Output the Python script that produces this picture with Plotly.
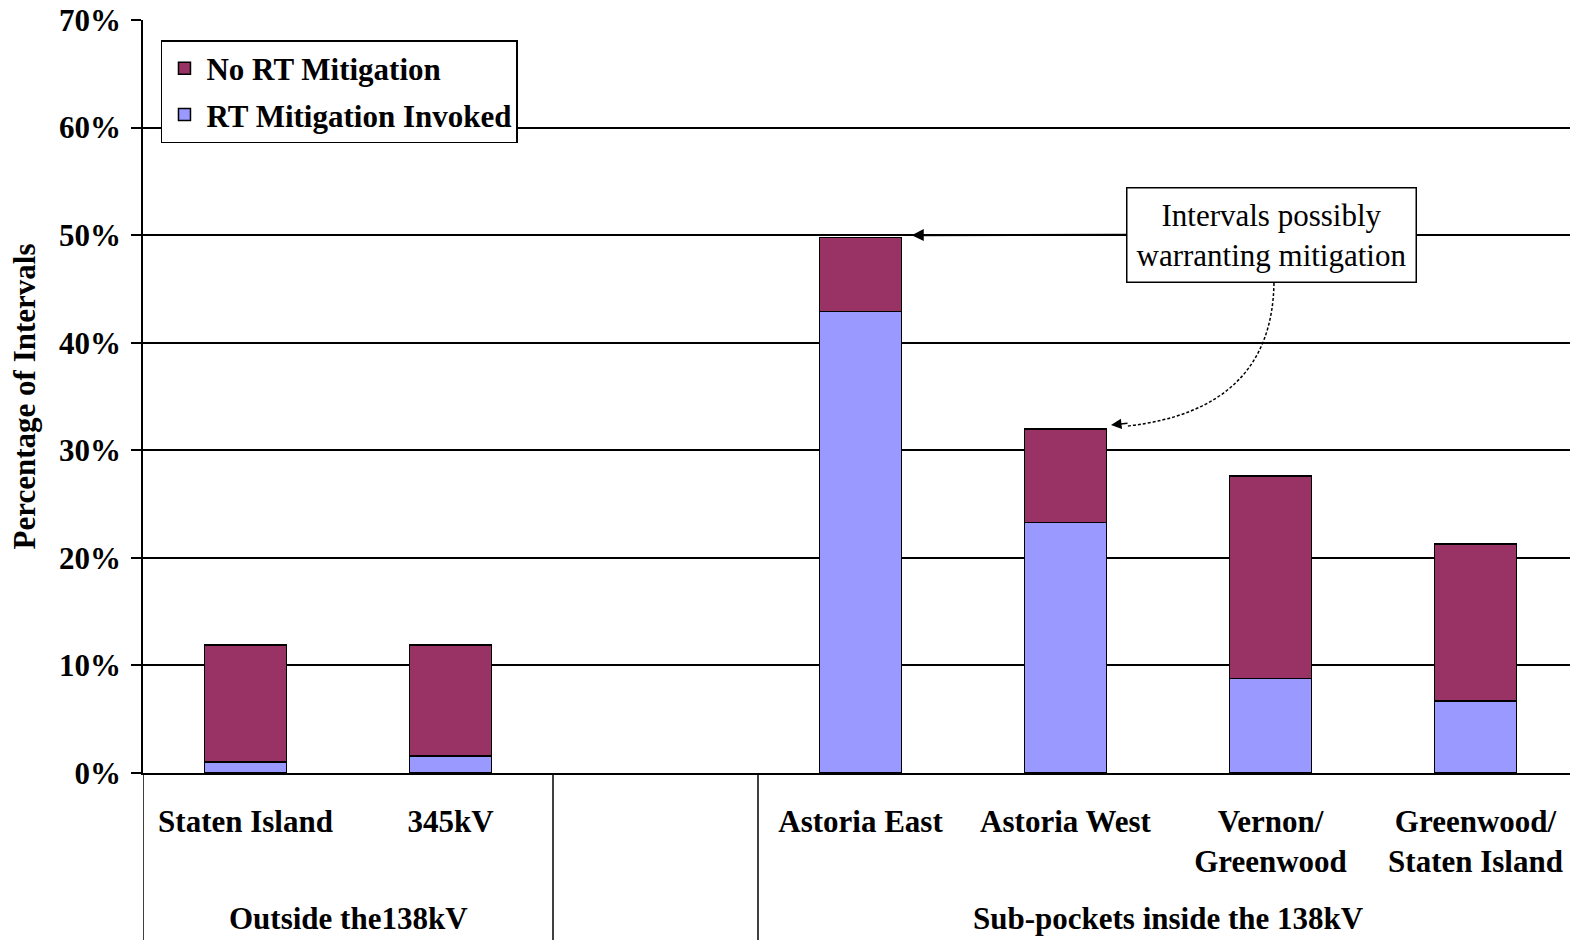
import plotly.graph_objects as go

# Sub-pocket categories (an empty slot separates the two groups)
categories = ["Staten Island", "345kV", "", "Astoria East", "Astoria West",
              "Vernon/<br>Greenwood", "Greenwood/<br>Staten Island"]
positions = [0, 1, 2, 3, 4, 5, 6]

# Share of intervals (%) with real-time mitigation invoked (bottom segment)
mitigated = [1.0, 1.6, None, 42.9, 23.3, 8.8, 6.7]
# Total share of intervals possibly warranting mitigation (%)
totals = [11.9, 11.9, None, 49.8, 32.0, 27.6, 21.3]
not_mitigated = [None if t is None else round(t - m, 2) for t, m in zip(totals, mitigated)]

y_ticks = [0, 10, 20, 30, 40, 50, 60, 70]
group_labels = ["Outside the138kV", "Sub-pockets inside the 138kV"]
group_centers = [0.5, 4.5]
group_dividers = [-0.5, 1.5, 2.5]

SERIF = "Liberation Serif, Times New Roman, serif"
MAROON = "#993366"
PERIWINKLE = "#9999FF"
FS = 31

fig = go.Figure()
fig.add_trace(go.Bar(
    x=positions, y=mitigated, name="RT Mitigation Invoked",
    marker=dict(color=PERIWINKLE, line=dict(color="black", width=1.5)),
    width=0.4, legendgroup="mitigated", legendrank=2,
))
fig.add_trace(go.Bar(
    x=positions, y=not_mitigated, name="No RT Mitigation",
    marker=dict(color=MAROON, line=dict(color="black", width=1.5)),
    width=0.4, legendgroup="unmitigated", legendrank=1,
))

fig.update_layout(
    barmode="stack",
    width=1570, height=940,
    margin=dict(l=143, r=0, t=20, b=167),
    paper_bgcolor="white", plot_bgcolor="white",
    font=dict(family=SERIF, color="black", size=FS),
    showlegend=True,
    legend=dict(
        x=0.0126, y=0.9734, xanchor="left", yanchor="top",
        bgcolor="white", bordercolor="black", borderwidth=1.5,
        font=dict(family=SERIF, size=FS, weight="bold", color="black"),
        traceorder="grouped", tracegroupgap=3, itemwidth=34,
    ),
    xaxis=dict(
        range=[-0.5, 6.461],
        tickmode="array", tickvals=positions, ticktext=categories,
        tickfont=dict(family=SERIF, size=FS, weight="bold", color="black"),
        ticks="", showgrid=False, zeroline=False,
        showline=True, linecolor="black", linewidth=1.5,
        ticklabelstandoff=20,
    ),
    yaxis=dict(
        range=[0, 70],
        tickmode="array", tickvals=y_ticks,
        ticktext=[f"{v}%" for v in y_ticks],
        tickfont=dict(family=SERIF, size=FS, weight="bold", color="black"),
        ticks="outside", ticklen=10, tickwidth=1.5, tickcolor="black",
        ticklabelstandoff=4,
        showgrid=True, gridcolor="black", gridwidth=1.5,
        zeroline=False, showline=True, linecolor="black", linewidth=1.5,
        title=dict(text="Percentage of Intervals", standoff=14,
                   font=dict(family=SERIF, size=31, weight="bold", color="black")),
    ),
)

# Group divider lines below the category axis
for xd in group_dividers:
    fig.add_shape(type="line", xref="x", yref="paper",
                  x0=xd, x1=xd, y0=-0.23, y1=0,
                  line=dict(color="black", width=1.5))

# Group captions
for label, xc in zip(group_labels, group_centers):
    fig.add_annotation(text=label, xref="x", yref="paper", x=xc, y=-0.1926,
                       showarrow=False, yanchor="middle",
                       font=dict(family=SERIF, size=FS, weight="bold", color="black"))

# Callout box with a straight arrow to the Astoria East total
fig.add_annotation(
    text="Intervals possibly<br>warranting mitigation",
    xref="x", yref="y", x=3.25, y=50.0,
    axref="x", ayref="y", ax=5.005, ay=50.05,
    showarrow=True, arrowhead=2, arrowsize=1.2, arrowwidth=2, arrowcolor="black",
    bgcolor="white", bordercolor="black", borderwidth=1.5, borderpad=9,
    font=dict(family=SERIF, size=FS, color="black"),
)

# Curved dashed connector from the callout down to the Astoria West total
fig.add_shape(type="path", xref="x", yref="y",
              path="M 5.017,45.55 Q 5.007,33.74 4.30,32.25",
              line=dict(color="black", width=1.5, dash="3px,2px"))
fig.add_annotation(text="", xref="x", yref="y", x=4.222, y=32.35,
                   ax=18, ay=-2, showarrow=True, arrowhead=2, arrowsize=1.4,
                   arrowwidth=1.5, arrowcolor="black")

fig.write_html("out.html")
